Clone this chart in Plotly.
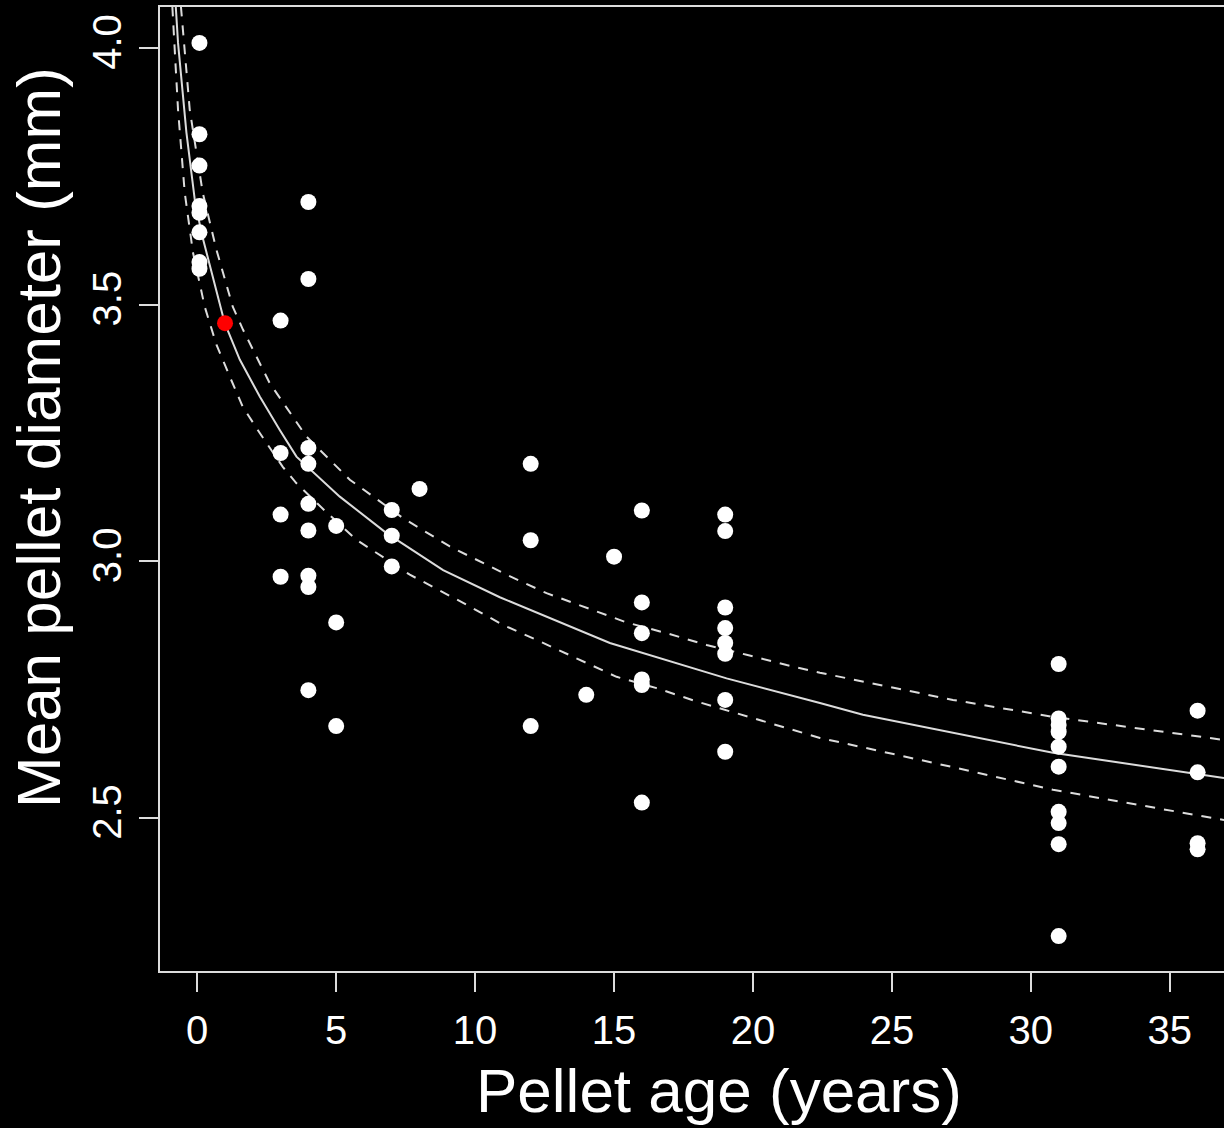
import plotly.graph_objects as go

# ---- observed data (pellet age in years, mean pellet diameter in mm) ----
age = [0.08]*8 + [3]*4 + [4]*9 + [5]*3 + [7]*3 + [8] + [12]*3 + [14] + [15] + [16]*6 + [19]*8 + [31]*10 + [36]*4
diameter = [4.010, 3.832, 3.771, 3.692, 3.679, 3.641, 3.583, 3.570,
            3.469, 3.211, 3.091, 2.970,
            3.700, 3.550, 3.221, 3.190, 3.112, 3.060, 2.972, 2.950, 2.749,
            3.069, 2.881, 2.679,
            3.100, 3.050, 2.990,
            3.141,
            3.190, 3.041, 2.679,
            2.740,
            3.009,
            3.099, 2.920, 2.860, 2.770, 2.759, 2.530,
            3.091, 3.059, 2.910, 2.870, 2.841, 2.820, 2.730, 2.629,
            2.800, 2.694, 2.681, 2.668, 2.639, 2.600, 2.512, 2.490, 2.449, 2.270,
            2.709, 2.589, 2.451, 2.439]

highlight_age = [1]
highlight_diameter = [3.464]

# ---- fitted curve and confidence band ----
fit_x = [-0.774, -0.691, -0.389, -0.090, 0.151, 0.990, 1.530, 2.250, 2.970, 3.571, 5.130,
         6.811, 8.848, 10.889, 14.849, 19.050, 22.408, 23.956, 30.795, 36.951]
fit_y = [4.082, 4.010, 3.835, 3.705, 3.640, 3.464, 3.393, 3.321, 3.256, 3.204, 3.126,
         3.055, 2.983, 2.930, 2.841, 2.772, 2.724, 2.701, 2.627, 2.578]

upper_x = [-0.587, -0.547, -0.270, 0.198, 0.691, 1.278, 1.649, 2.610, 3.931, 5.490, 7.408,
           9.089, 11.130, 12.570, 14.010, 15.450, 16.890, 18.330, 19.770, 21.210, 22.408,
           27.196, 30.795, 36.951]
upper_y = [4.081, 4.056, 3.880, 3.718, 3.607, 3.496, 3.451, 3.347, 3.243, 3.159, 3.084,
           3.029, 2.974, 2.938, 2.909, 2.881, 2.860, 2.837, 2.818, 2.798, 2.783,
           2.730, 2.697, 2.652]

lower_x = [-0.896, -0.871, -0.691, -0.450, -0.151, 0.270, 0.691, 1.170, 1.638, 2.250, 3.078,
           3.571, 4.662, 5.731, 7.649, 9.568, 11.008, 12.329, 13.769, 15.090, 16.530,
           17.970, 19.410, 20.850, 22.408, 27.196, 30.795, 36.951]
lower_y = [4.081, 4.056, 3.880, 3.718, 3.601, 3.496, 3.422, 3.360, 3.301, 3.250, 3.184,
           3.152, 3.095, 3.042, 2.974, 2.919, 2.876, 2.844, 2.808, 2.775, 2.753,
           2.727, 2.704, 2.681, 2.656, 2.599, 2.555, 2.496]

x_ticks = [0, 5, 10, 15, 20, 25, 30, 35]
y_ticks = [2.5, 3.0, 3.5, 4.0]
y_tick_text = ["2.5", "3.0", "3.5", "4.0"]

FONT = "Liberation Sans, Arial, Helvetica, sans-serif"
LINE = "#dcdcdc"

fig = go.Figure()
fig.add_trace(go.Scatter(x=fit_x, y=fit_y, mode="lines",
                         line=dict(color=LINE, width=2), hoverinfo="skip"))
fig.add_trace(go.Scatter(x=upper_x, y=upper_y, mode="lines",
                         line=dict(color=LINE, width=2, dash="10px,9px"), hoverinfo="skip"))
fig.add_trace(go.Scatter(x=lower_x, y=lower_y, mode="lines",
                         line=dict(color=LINE, width=2, dash="10px,9px"), hoverinfo="skip"))
fig.add_trace(go.Scatter(x=age, y=diameter, mode="markers",
                         marker=dict(color="white", size=16, line=dict(width=0))))
fig.add_trace(go.Scatter(x=highlight_age, y=highlight_diameter, mode="markers",
                         marker=dict(color="#ff0000", size=16, line=dict(width=0))))

fig.update_layout(
    width=1224, height=1128,
    margin=dict(l=160, r=0, t=7, b=157),
    paper_bgcolor="black", plot_bgcolor="black",
    showlegend=False,
    font=dict(family=FONT, color="white"),
    xaxis=dict(range=[-1.34, 36.95], tickvals=x_ticks, ticks="outside", ticklen=19,
               tickwidth=2, tickcolor=LINE, showline=True, linecolor=LINE, linewidth=2,
               mirror=True, showgrid=False, zeroline=False,
               tickfont=dict(size=40, color="white", family=FONT), ticklabelstandoff=4),
    yaxis=dict(range=[2.2019, 4.0799], tickvals=y_ticks, ticktext=y_tick_text,
               ticks="outside", ticklen=19, tickwidth=2, tickcolor=LINE,
               showline=True, linecolor=LINE, linewidth=2, mirror=False,
               showgrid=False, zeroline=False, tickangle=-90,
               tickfont=dict(size=40, color="white", family=FONT), ticklabelstandoff=2),
    annotations=[
        dict(text="Pellet age (years)", xref="paper", yref="paper",
             x=(719 - 160) / 1064, y=(971 - 1090) / 964, xanchor="center", yanchor="middle",
             showarrow=False, font=dict(size=62, color="white", family=FONT)),
        dict(text="Mean pellet diameter (mm)", xref="paper", yref="paper",
             x=(39 - 160) / 1064, y=(971 - 438) / 964, xanchor="center", yanchor="middle",
             textangle=-90, showarrow=False, font=dict(size=62, color="white", family=FONT)),
    ],
)

fig.write_html("out.html", config={"displayModeBar": False},
               post_script="document.body.style.margin='0';document.body.style.background='black';")
